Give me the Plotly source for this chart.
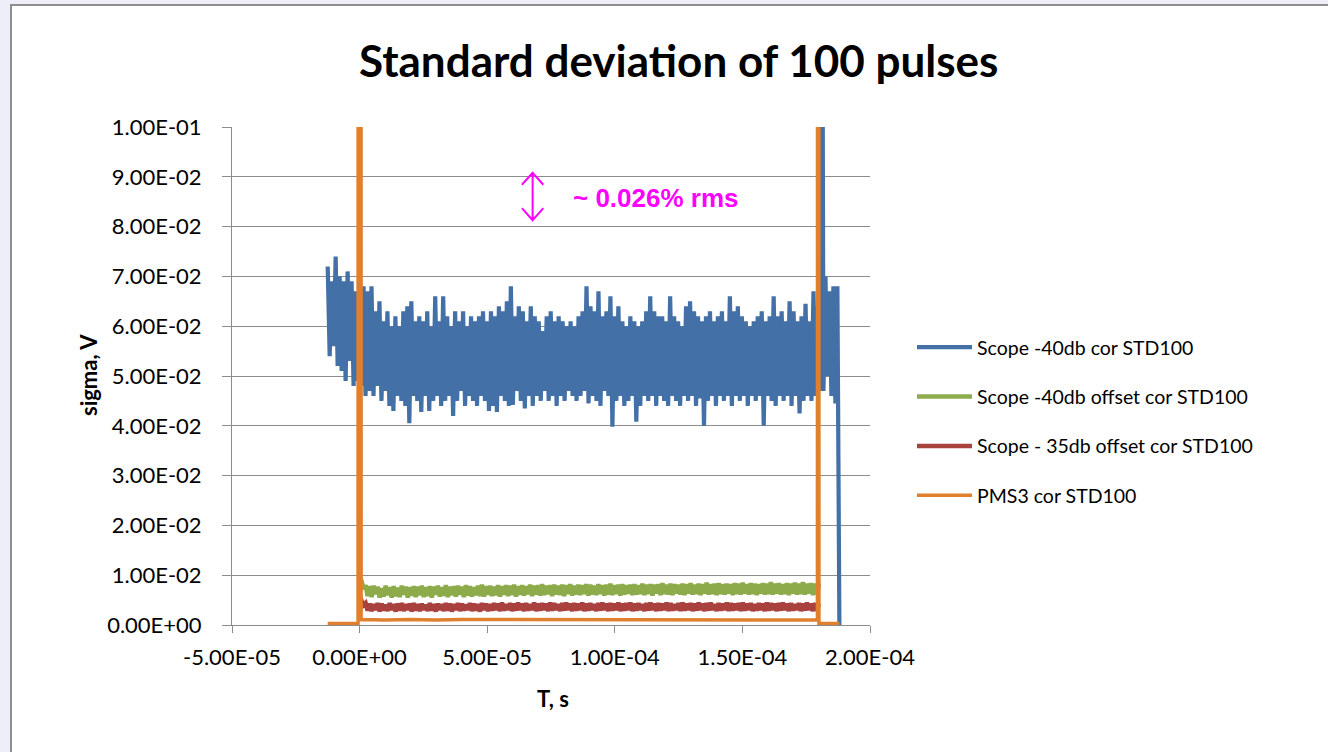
import numpy as np
import plotly.graph_objects as go

# ---- data -------------------------------------------------------------
# Scope -40db cor STD100 (V), sampled uniformly from T_BLUE_START to T_BLUE_END
T_BLUE_START, T_BLUE_END = -1.25e-5, 1.88e-4
BLUE = [
    0.072, 0.054, 0.069, 0.056, 0.074, 0.052, 0.070, 0.051, 0.069, 0.049,
    0.071, 0.053, 0.069, 0.048, 0.067, 0.049, 0.066, 0.048, 0.068, 0.046,
    0.067, 0.047, 0.068, 0.046, 0.063, 0.048, 0.065, 0.045, 0.061, 0.047,
    0.063, 0.044, 0.060, 0.043, 0.062, 0.046, 0.060, 0.045, 0.063, 0.044,
    0.064, 0.0405, 0.065, 0.046, 0.061, 0.045, 0.062, 0.0428, 0.061, 0.046,
    0.063, 0.043, 0.060, 0.045, 0.066, 0.046, 0.061, 0.044, 0.066, 0.045,
    0.062, 0.046, 0.060, 0.042, 0.063, 0.045, 0.061, 0.047, 0.063, 0.044,
    0.060, 0.046, 0.062, 0.045, 0.061, 0.044, 0.062, 0.046, 0.063, 0.045,
    0.061, 0.043, 0.063, 0.044, 0.062, 0.0428, 0.064, 0.046, 0.063, 0.045,
    0.065, 0.044, 0.068, 0.0442, 0.062, 0.047, 0.064, 0.045, 0.063, 0.0435,
    0.061, 0.046, 0.064, 0.044, 0.062, 0.046, 0.061, 0.045, 0.059, 0.047,
    0.062, 0.045, 0.063, 0.046, 0.061, 0.044, 0.062, 0.046, 0.061, 0.045,
    0.060, 0.047, 0.061, 0.046, 0.060, 0.045, 0.062, 0.046, 0.063, 0.047,
    0.068, 0.0445, 0.064, 0.046, 0.063, 0.045, 0.067, 0.044, 0.062, 0.047,
    0.063, 0.046, 0.066, 0.0398, 0.062, 0.045, 0.064, 0.046, 0.061, 0.044,
    0.060, 0.045, 0.062, 0.046, 0.061, 0.0408, 0.060, 0.044, 0.061, 0.046,
    0.063, 0.045, 0.066, 0.046, 0.063, 0.044, 0.062, 0.046, 0.062, 0.045,
    0.061, 0.044, 0.066, 0.046, 0.062, 0.045, 0.061, 0.044, 0.060, 0.046,
    0.064, 0.045, 0.065, 0.046, 0.063, 0.044, 0.062, 0.0455, 0.061, 0.040,
    0.062, 0.045, 0.063, 0.046, 0.061, 0.044, 0.062, 0.046, 0.063, 0.045,
    0.061, 0.046, 0.066, 0.044, 0.063, 0.046, 0.064, 0.045, 0.062, 0.046,
    0.061, 0.044, 0.060, 0.046, 0.061, 0.045, 0.062, 0.046, 0.063, 0.040,
    0.061, 0.046, 0.062, 0.045, 0.066, 0.044, 0.062, 0.046, 0.063, 0.045,
    0.061, 0.046, 0.065, 0.044, 0.063, 0.046, 0.061, 0.0425, 0.062, 0.045,
    0.0645, 0.046, 0.061, 0.045, 0.067, 0.046, 0.064, 0.047, 0.200, 0.047,
    0.070, 0.050, 0.067, 0.046, 0.068, 0.0445, 0.068, 0.000,
]

# Scope -40db offset cor STD100 (V), from T_PULSE_START to T_PULSE_END
T_PULSE_START, T_PULSE_END = 0.0, 1.8e-4
GREEN = [
    0.0095, 0.0088, 0.0072, 0.0080, 0.0058, 0.0078, 0.0056, 0.0079, 0.0062, 0.0077,
    0.0055, 0.0074, 0.0057, 0.0079, 0.0060, 0.0076, 0.0055, 0.0078, 0.0058, 0.0075,
    0.0056, 0.0079, 0.0061, 0.0077, 0.0055, 0.0076, 0.0059, 0.0078, 0.0056, 0.0077,
    0.0060, 0.0079, 0.0056, 0.0076, 0.0058, 0.0078, 0.0055, 0.0077, 0.0061, 0.0079,
    0.0057, 0.0076, 0.0059, 0.0080, 0.0056, 0.0077, 0.0060, 0.0078, 0.0057, 0.0079,
    0.0061, 0.0077, 0.0056, 0.0080, 0.0059, 0.0078, 0.0057, 0.0076, 0.0060, 0.0079,
    0.0058, 0.0081, 0.0057, 0.0078, 0.0061, 0.0079, 0.0058, 0.0077, 0.0060, 0.0080,
    0.0057, 0.0078, 0.0061, 0.0080, 0.0058, 0.0079, 0.0060, 0.0081, 0.0057, 0.0078,
    0.0061, 0.0080, 0.0059, 0.0078, 0.0062, 0.0081, 0.0058, 0.0079, 0.0061, 0.0080,
    0.0059, 0.0082, 0.0060, 0.0079, 0.0062, 0.0080, 0.0058, 0.0081, 0.0061, 0.0079,
    0.0060, 0.0081, 0.0058, 0.0080, 0.0062, 0.0082, 0.0059, 0.0079, 0.0061, 0.0081,
    0.0060, 0.0080, 0.0062, 0.0082, 0.0059, 0.0081, 0.0061, 0.0079, 0.0060, 0.0082,
    0.0062, 0.0080, 0.0059, 0.0081, 0.0061, 0.0083, 0.0060, 0.0080, 0.0062, 0.0081,
    0.0059, 0.0082, 0.0061, 0.0080, 0.0063, 0.0081, 0.0060, 0.0082, 0.0061, 0.0080,
    0.0062, 0.0083, 0.0060, 0.0081, 0.0062, 0.0082, 0.0059, 0.0081, 0.0063, 0.0082,
    0.0060, 0.0084, 0.0062, 0.0081, 0.0061, 0.0083, 0.0060, 0.0082, 0.0063, 0.0081,
    0.0061, 0.0083, 0.0060, 0.0082, 0.0063, 0.0084, 0.0061, 0.0081, 0.0062, 0.0083,
    0.0060, 0.0082, 0.0063, 0.0085, 0.0061, 0.0082, 0.0062, 0.0083, 0.0060, 0.0084,
    0.0062, 0.0082, 0.0061, 0.0083, 0.0063, 0.0082, 0.0060, 0.0084, 0.0062, 0.0083,
    0.0061, 0.0085, 0.0063, 0.0082, 0.0061, 0.0084, 0.0062, 0.0083, 0.0060, 0.0082,
    0.0063, 0.0084, 0.0061, 0.0083, 0.0062, 0.0086, 0.0061, 0.0083, 0.0063, 0.0084,
    0.0061, 0.0082, 0.0062, 0.0084, 0.0060, 0.0083, 0.0063, 0.0085, 0.0061, 0.0083,
    0.0062, 0.0086, 0.0061, 0.0083, 0.0063, 0.0084, 0.0060, 0.0083, 0.0062, 0.0084,
]

# Scope - 35db offset cor STD100 (V), same time span as GREEN
RED = [
    0.0058, 0.0050, 0.0040, 0.0044, 0.0029, 0.0043, 0.0028, 0.0042, 0.0030, 0.0044,
    0.0027, 0.0043, 0.0029, 0.0041, 0.0028, 0.0044, 0.0030, 0.0042, 0.0027, 0.0043,
    0.0029, 0.0044, 0.0028, 0.0042, 0.0030, 0.0043, 0.0027, 0.0044, 0.0029, 0.0042,
    0.0028, 0.0043, 0.0030, 0.0041, 0.0028, 0.0044, 0.0029, 0.0042, 0.0027, 0.0043,
    0.0030, 0.0042, 0.0028, 0.0044, 0.0029, 0.0043, 0.0027, 0.0042, 0.0030, 0.0044,
    0.0028, 0.0043, 0.0029, 0.0041, 0.0030, 0.0044, 0.0028, 0.0043, 0.0029, 0.0042,
    0.0027, 0.0044, 0.0030, 0.0043, 0.0028, 0.0042, 0.0029, 0.0044, 0.0030, 0.0043,
    0.0028, 0.0045, 0.0029, 0.0042, 0.0030, 0.0044, 0.0028, 0.0043, 0.0029, 0.0045,
    0.0030, 0.0043, 0.0028, 0.0044, 0.0029, 0.0042, 0.0030, 0.0045, 0.0028, 0.0043,
    0.0029, 0.0044, 0.0030, 0.0043, 0.0028, 0.0045, 0.0029, 0.0044, 0.0030, 0.0042,
    0.0028, 0.0044, 0.0029, 0.0045, 0.0030, 0.0043, 0.0028, 0.0044, 0.0029, 0.0043,
    0.0030, 0.0045, 0.0028, 0.0043, 0.0029, 0.0044, 0.0030, 0.0042, 0.0028, 0.0044,
    0.0029, 0.0045, 0.0030, 0.0043, 0.0028, 0.0044, 0.0029, 0.0043, 0.0030, 0.0045,
    0.0028, 0.0043, 0.0029, 0.0044, 0.0030, 0.0045, 0.0028, 0.0043, 0.0029, 0.0044,
    0.0030, 0.0042, 0.0028, 0.0044, 0.0029, 0.0045, 0.0030, 0.0043, 0.0028, 0.0044,
    0.0029, 0.0043, 0.0030, 0.0045, 0.0028, 0.0044, 0.0029, 0.0042, 0.0030, 0.0044,
    0.0028, 0.0045, 0.0029, 0.0043, 0.0030, 0.0044, 0.0028, 0.0043, 0.0029, 0.0045,
    0.0030, 0.0043, 0.0028, 0.0044, 0.0029, 0.0045, 0.0030, 0.0042, 0.0028, 0.0044,
    0.0029, 0.0043, 0.0030, 0.0045, 0.0028, 0.0044, 0.0029, 0.0043, 0.0030, 0.0044,
    0.0028, 0.0045, 0.0029, 0.0043, 0.0030, 0.0044, 0.0028, 0.0042, 0.0029, 0.0044,
    0.0030, 0.0043, 0.0028, 0.0045, 0.0029, 0.0044, 0.0030, 0.0043, 0.0028, 0.0044,
    0.0029, 0.0045, 0.0030, 0.0043, 0.0028, 0.0044, 0.0029, 0.0042, 0.0030, 0.0044,
    0.0028, 0.0043, 0.0029, 0.0045, 0.0030, 0.0043, 0.0028, 0.0044, 0.0029, 0.0043,
]

# PMS3 cor STD100: sparse (time, value) pairs; the two gate edges run off scale
ORANGE_T = [
    -1.25e-5, -6.0e-7, -5.0e-7, 5.0e-7, 6.0e-7,
    1.0e-5, 2.0e-5, 3.0e-5, 4.0e-5, 5.0e-5, 6.0e-5, 7.0e-5, 8.0e-5,
    9.0e-5, 1.0e-4, 1.1e-4, 1.2e-4, 1.3e-4, 1.4e-4, 1.5e-4, 1.6e-4, 1.7e-4,
    1.794e-4, 1.795e-4, 1.799e-4, 1.800e-4, 1.88e-4,
]
ORANGE_V = [
    0.0003, 0.0003, 0.5, 0.5, 0.0011,
    0.0010, 0.0011, 0.0010, 0.0011, 0.0011, 0.0010, 0.0011, 0.0010,
    0.0011, 0.0010, 0.0011, 0.0011, 0.0010, 0.0011, 0.0010, 0.0011, 0.0010,
    0.0010, 0.5, 0.5, 0.0003, 0.0003,
]

SERIES_NAMES = [
    "Scope -40db cor STD100",
    "Scope -40db offset cor STD100",
    "Scope - 35db offset cor STD100",
    "PMS3 cor STD100",
]
COLORS = ["#4470A8", "#8DAB4B", "#A9423F", "#E0802F"]

Y_TICKS = [0.00, 0.01, 0.02, 0.03, 0.04, 0.05, 0.06, 0.07, 0.08, 0.09, 0.10]
Y_TICK_TEXT = ["0.00E+00", "1.00E-02", "2.00E-02", "3.00E-02", "4.00E-02",
               "5.00E-02", "6.00E-02", "7.00E-02", "8.00E-02", "9.00E-02", "1.00E-01"]
X_TICKS = [-5e-5, 0.0, 5e-5, 1e-4, 1.5e-4, 2e-4]
X_TICK_TEXT = ["-5.00E-05", "0.00E+00", "5.00E-05", "1.00E-04", "1.50E-04", "2.00E-04"]

# ---- figure -----------------------------------------------------------
t_blue = np.linspace(T_BLUE_START, T_BLUE_END, len(BLUE))
t_pulse = np.linspace(T_PULSE_START, T_PULSE_END, len(GREEN))

FONT = "Lato, 'Open Sans', sans-serif"
GRID = "#8C8C8C"

fig = go.Figure()
traces = [
    (t_blue, BLUE, 4.2),
    (t_pulse, GREEN, 4.5),
    (t_pulse, RED, 4.5),
    (ORANGE_T, ORANGE_V, 3.5),
]
for i, (tx, vy, w) in enumerate(traces):
    fig.add_trace(go.Scatter(
        x=tx, y=vy, mode="lines", name=SERIES_NAMES[i],
        legendgroup=f"g{i}",
        line=dict(color=COLORS[i], width=w),
    ))

# plot-area geometry in pixels (1328 x 752 page)
L, R, T, B = 232, 870, 127, 625
PW, PH = R - L, B - T


def px_x(p):
    return (p - L) / PW


def px_y(p):
    return (B - p) / PH


shapes = [
    # white slide panel with its grey frame on the lavender page
    dict(type="rect", xref="paper", yref="paper", layer="below",
         x0=px_x(11), x1=px_x(1340), y0=px_y(770), y1=px_y(5),
         fillcolor="white", line=dict(color="#8E8E8E", width=2)),
]

# magenta double-headed marker
ax_t = 6.78e-5
y_top, y_bot = 0.0908, 0.0813
dx, dy = 4.2e-6, 0.0024
arrow_path = (f"M{ax_t},{y_top} L{ax_t},{y_bot} "
              f"M{ax_t - dx},{y_top - dy} L{ax_t},{y_top} L{ax_t + dx},{y_top - dy} "
              f"M{ax_t - dx},{y_bot + dy} L{ax_t},{y_bot} L{ax_t + dx},{y_bot + dy}")
shapes.append(dict(type="path", xref="x", yref="y", path=arrow_path,
                   line=dict(color="#FF00FF", width=2)))

annotations = [
    dict(text="<b>Standard deviation of 100 pulses</b>", x=px_x(678), y=px_y(60),
         xref="paper", yref="paper", xanchor="center", yanchor="middle",
         showarrow=False, font=dict(family=FONT, size=44, color="#000000")),
    dict(text="<b>~ 0.026% rms</b>", x=px_x(571), y=px_y(198), xref="paper", yref="paper",
         xanchor="left", yanchor="middle", showarrow=False,
         font=dict(family="'Liberation Sans', Arial, sans-serif", size=26,
                   color="#FF00FF")),
    dict(text="<b>sigma, V</b>", x=px_x(88), y=px_y(375), xref="paper", yref="paper",
         textangle=-90, showarrow=False, xanchor="center", yanchor="middle",
         font=dict(family=FONT, size=22, color="#000000")),
    dict(text="<b>T, s</b>", x=px_x(553), y=px_y(698), xref="paper", yref="paper",
         showarrow=False, xanchor="center", yanchor="middle",
         font=dict(family=FONT, size=22, color="#000000")),
]

fig.update_layout(
    width=1328, height=752,
    margin=dict(l=L, r=1328 - R, t=T, b=752 - B, pad=0),
    paper_bgcolor="#EEEEF8",
    plot_bgcolor="rgba(0,0,0,0)",
    xaxis=dict(range=[-5e-5, 2e-4], tickvals=X_TICKS, ticktext=X_TICK_TEXT,
               showgrid=False, zeroline=False, showline=True, linecolor=GRID,
               linewidth=1, ticks="outside", ticklen=7, tickcolor=GRID,
               ticklabelstandoff=6,
               tickfont=dict(family=FONT, size=22, color="#000000")),
    yaxis=dict(range=[0, 0.1], tickvals=Y_TICKS, ticktext=Y_TICK_TEXT,
               showgrid=True, gridcolor=GRID, gridwidth=1, zeroline=False,
               showline=True, linecolor=GRID, linewidth=1, ticks="outside",
               ticklen=9, tickcolor=GRID, ticklabelstandoff=16,
               tickfont=dict(family=FONT, size=22, color="#000000")),
    legend=dict(x=px_x(912), y=px_y(328), xref="paper", yref="paper",
                xanchor="left", yanchor="top", bgcolor="rgba(0,0,0,0)",
                font=dict(family=FONT, size=19.5, color="#000000"),
                itemwidth=55, tracegroupgap=21, traceorder="grouped"),
    shapes=shapes,
    annotations=annotations,
    showlegend=True,
)

fig.write_html("out.html")
